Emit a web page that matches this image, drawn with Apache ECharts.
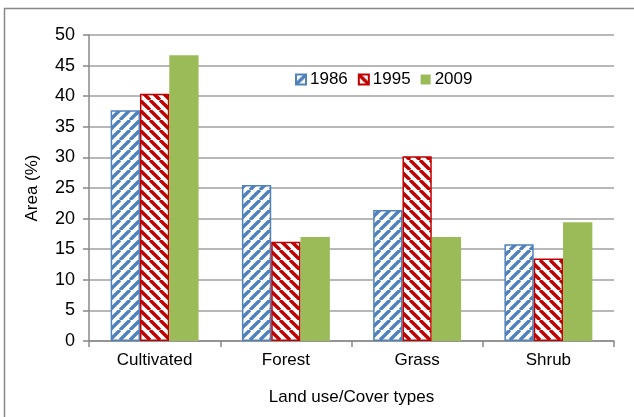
<!DOCTYPE html>
<html><head><meta charset="utf-8">
<script src="https://cdn.jsdelivr.net/npm/echarts@6/dist/echarts.min.js"></script>
<style>html,body{margin:0;padding:0;background:#fff}#c{width:634px;height:417px}</style>
</head><body><div id="c"></div>
<script>
const categories = ['Cultivated', 'Forest', 'Grass', 'Shrub'];
const seriesNames = ['1986', '1995', '2009'];
const v1986 = [37.7, 25.5, 21.4, 15.8];
const v1995 = [40.4, 16.2, 30.2, 13.5];
const v2009 = [46.7, 17.0, 17.0, 19.4];
const yTicks = [0, 5, 10, 15, 20, 25, 30, 35, 40, 45, 50];

function stripe(color, dir) {
  const s = 10;
  const cv = document.createElement('canvas');
  cv.width = s; cv.height = s;
  const g = cv.getContext('2d');
  g.fillStyle = '#fff'; g.fillRect(0, 0, s, s);
  g.strokeStyle = color; g.lineWidth = 3.4;
  g.beginPath();
  if (dir === '/') {
    for (let k = -1; k <= 1; k++) { g.moveTo(k * s, s); g.lineTo(k * s + s, 0); }
  } else {
    for (let k = -1; k <= 1; k++) { g.moveTo(k * s, 0); g.lineTo(k * s + s, s); }
  }
  g.stroke();
  return cv;
}
const blue = '#4F81BD', red = '#C00000', green = '#9BBB59';
const chart = echarts.init(document.getElementById('c'), null, {renderer: 'canvas'});
const font = 'Liberation Sans, Arial, sans-serif';
chart.setOption({
  animation: false,
  graphic: [{type: 'rect', shape: {x: 4.5, y: 8.5, width: 640, height: 420}, style: {fill: 'none', stroke: '#888', lineWidth: 1.5}, silent: true}],
  grid: {left: 89, right: 20, top: 35, bottom: 76},
  legend: {
    data: seriesNames, top: 66, left: 290, itemWidth: 10, itemHeight: 10, itemGap: 10,
    textStyle: {fontFamily: font, fontSize: 17, color: '#000', padding: [0, 0, 0, -1]},
    icon: 'rect'
  },
  xAxis: {
    type: 'category', data: categories,
    name: 'Land use/Cover types', nameLocation: 'middle', nameGap: 48,
    nameTextStyle: {fontFamily: font, fontSize: 17, color: '#000'},
    axisLine: {lineStyle: {color: '#888', width: 1.5}},
    axisTick: {show: true, length: 6, lineStyle: {color: '#888', width: 1.5}},
    axisLabel: {fontFamily: font, fontSize: 17, color: '#000', margin: 11}
  },
  yAxis: {
    type: 'value', min: yTicks[0], max: yTicks[yTicks.length - 1], interval: 5,
    name: 'Area (%)', nameLocation: 'middle', nameGap: 48,
    nameTextStyle: {fontFamily: font, fontSize: 17, color: '#000'},
    axisLine: {show: true, lineStyle: {color: '#888', width: 1.5}},
    axisTick: {show: true, length: 6, lineStyle: {color: '#888', width: 1.5}},
    splitLine: {lineStyle: {color: '#A0A0A0', width: 1.5}},
    axisLabel: {fontFamily: font, fontSize: 18, color: '#000', margin: 14}
  },
  series: [
    {name: '1986', type: 'bar', data: v1986, barGap: '0%', barCategoryGap: '33%',
     itemStyle: {color: {image: stripe(blue, '/'), repeat: 'repeat'}, borderColor: blue, borderWidth: 1.5}},
    {name: '1995', type: 'bar', data: v1995,
     itemStyle: {color: {image: stripe(red, '\\'), repeat: 'repeat'}, borderColor: red, borderWidth: 1.5}},
    {name: '2009', type: 'bar', data: v2009, itemStyle: {color: green}}
  ]
});
</script></body></html>
